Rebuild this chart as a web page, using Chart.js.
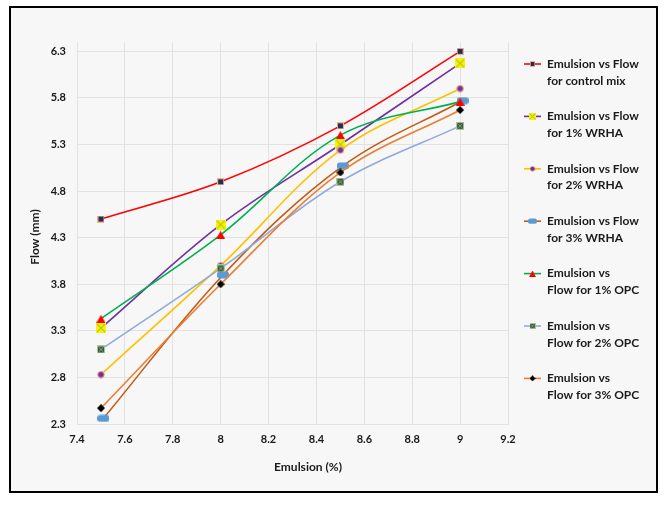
<!DOCTYPE html>
<html>
<head>
<meta charset="utf-8">
<script src="https://cdn.jsdelivr.net/npm/chart.js@4.4.1/dist/chart.umd.min.js"></script>
<style>
html, body { margin: 0; padding: 0; background: #fff; }
#moldura { position: absolute; left: 9px; top: 6px; width: 645px; height: 483px; border: 2px solid #000; background: #f7f7f7; }
canvas { display: block; }
</style>
</head>
<body>
<div id="moldura"><canvas id="myChartA" width="645" height="483"></canvas></div>
<script>
// valores (Emulsion % x Flow mm)
const emulsao = [7.5, 8, 8.5, 9]
const emulsao3WRHA = [7.51, 8.01, 8.51, 9.01]
const flowControle = [4.5, 4.9, 5.5, 6.3]
const flow1WRHA = [3.33, 4.44, 5.30, 6.17]
const flow2WRHA = [2.83, 4.00, 5.24, 5.90]
const flow3WRHA = [2.36, 3.90, 5.07, 5.77]
const flow1OPC = [3.43, 4.33, 5.40, 5.76]
const flow2OPC = [3.10, 3.97, 4.90, 5.50]
const flow3OPC = [2.47, 3.80, 5.00, 5.67]

const xTicks = [7.4, 7.6, 7.8, 8, 8.2, 8.4, 8.6, 8.8, 9, 9.2]
const yTicks = [2.3, 2.8, 3.3, 3.8, 4.3, 4.8, 5.3, 5.8, 6.3]

const legendas = [
    ['Emulsion vs Flow', 'for control mix'],
    ['Emulsion vs Flow', 'for 1% WRHA'],
    ['Emulsion vs Flow', 'for 2% WRHA'],
    ['Emulsion vs Flow', 'for 3% WRHA'],
    ['Emulsion vs', 'Flow for 1% OPC'],
    ['Emulsion vs', 'Flow for 2% OPC'],
    ['Emulsion vs', 'Flow for 3% OPC']
]

// marcadores desenhados num canvas pequeno
function marcador(w, h, desenha) {
    const c = document.createElement('canvas')
    c.width = w
    c.height = h
    desenha(c.getContext('2d'), w, h)
    return c
}

const mQuadrado = marcador(7, 7, function (g) {
    g.fillStyle = '#f4b183'; g.fillRect(0, 0, 7, 7)
    g.fillStyle = '#1f2f5c'; g.fillRect(1, 1, 5, 5)
})
const mXamarelo = marcador(10, 10, function (g) {
    g.fillStyle = '#f5f500'; g.fillRect(0, 0, 10, 10)
    g.strokeStyle = '#c2c22a'; g.lineWidth = 1.2
    g.beginPath(); g.moveTo(1, 1); g.lineTo(9, 9); g.moveTo(9, 1); g.lineTo(1, 9); g.stroke()
})
const mCirculo = marcador(8, 8, function (g) {
    g.fillStyle = '#7030a0'; g.strokeStyle = '#f4b183'; g.lineWidth = 1
    g.beginPath(); g.arc(4, 4, 3.3, 0, Math.PI * 2); g.fill(); g.stroke()
})
const mAzul = marcador(12, 8, function (g) {
    g.fillStyle = '#5b9bd5'
    g.beginPath(); g.roundRect(0, 0.5, 12, 7, 3); g.fill()
})
const mTriangulo = marcador(9, 8, function (g) {
    g.fillStyle = '#ff0000'
    g.beginPath(); g.moveTo(4.5, 0); g.lineTo(9, 8); g.lineTo(0, 8); g.closePath(); g.fill()
})
const mVerde = marcador(8, 8, function (g) {
    g.fillStyle = '#a9c89a'; g.fillRect(0, 0, 8, 8)
    g.fillStyle = '#3b5a3e'; g.fillRect(1, 1, 6, 6)
    g.strokeStyle = '#7d9c7a'; g.lineWidth = 1
    g.beginPath(); g.moveTo(1.5, 1.5); g.lineTo(6.5, 6.5); g.moveTo(6.5, 1.5); g.lineTo(1.5, 6.5); g.stroke()
})
const mLosango = marcador(8, 8, function (g) {
    g.fillStyle = '#000000'
    g.beginPath(); g.moveTo(4, 0); g.lineTo(8, 4); g.lineTo(4, 8); g.lineTo(0, 4); g.closePath(); g.fill()
})

function pontos(xs, ys) {
    return xs.map(function (x, i) { return { x: x, y: ys[i] } })
}

function serie(xs, ys, cor, ponto, ordem) {
    return {
        data: pontos(xs, ys),
        borderColor: cor,
        backgroundColor: cor,
        borderWidth: 1.6,
        pointStyle: ponto,
        pointRadius: 5,
        tension: 0.35,
        order: ordem
    }
}

const legendaLateral = {
    id: 'legendaLateral',
    afterDraw(chart) {
        const ctx = chart.ctx
        ctx.save()
        ctx.textBaseline = 'middle'
        chart.data.datasets.forEach(function (ds, i) {
            const y = 56 + i * 52.4
            ctx.strokeStyle = ds.borderColor
            ctx.lineWidth = 1.6
            ctx.beginPath(); ctx.moveTo(513, y); ctx.lineTo(530, y); ctx.stroke()
            const img = ds.pointStyle
            const w = img.width * 0.75, h = img.height * 0.75
            ctx.drawImage(img, 521.5 - w / 2, y - h / 2, w, h)
            ctx.fillStyle = '#1a1a1a'
            ctx.font = 'bold 12px Lato'
            ctx.textAlign = 'left'
            ctx.fillText(legendas[i][0], 536, y)
            ctx.fillText(legendas[i][1], 536, y + 16.7)
        })
        // titulos dos eixos
        ctx.fillStyle = '#1a1a1a'
        ctx.font = 'bold 12px Lato'
        ctx.textAlign = 'center'
        ctx.fillText('Emulsion (%)', 297, 459)
        ctx.translate(24, 229)
        ctx.rotate(-Math.PI / 2)
        ctx.fillText('Flow (mm)', 0, 0)
        ctx.restore()
    }
}

function plotarGrafico() {
    const data = {
        datasets: [
            serie(emulsao, flowControle, '#ff0000', mQuadrado, 6),
            serie(emulsao, flow1WRHA, '#7030a0', mXamarelo, 5),
            serie(emulsao, flow2WRHA, '#ffc000', mCirculo, 4),
            serie(emulsao3WRHA, flow3WRHA, '#c55a11', mAzul, 3),
            serie(emulsao, flow1OPC, '#00b050', mTriangulo, 2),
            serie(emulsao, flow2OPC, '#8faadc', mVerde, 1),
            serie(emulsao, flow3OPC, '#ed7d31', mLosango, 0)
        ]
    }

    const config = {
        type: 'line',
        data: data,
        plugins: [legendaLateral],
        options: {
            responsive: false,
            animation: false,
            layout: { padding: { left: 0, top: 34, right: 148, bottom: 0 } },
            plugins: {
                legend: { display: false },
                tooltip: { enabled: false }
            },
            scales: {
                x: {
                    type: 'linear',
                    min: 7.4,
                    max: 9.2,
                    afterBuildTicks: function (scale) { scale.ticks = xTicks.map(function (v) { return { value: v } }) },
                    afterFit: function (scale) { scale.height = 67 },
                    ticks: {
                        callback: function (v) { return String(v) },
                        color: '#1a1a1a',
                        font: { family: 'Lato', size: 11, weight: 'bold' },
                        padding: 9,
                        maxRotation: 0
                    },
                    grid: { color: '#e2e2e2', drawTicks: false },
                    border: { color: '#e2e2e2' }
                },
                y: {
                    min: 2.3,
                    max: 6.4,
                    afterBuildTicks: function (scale) { scale.ticks = yTicks.map(function (v) { return { value: v } }) },
                    afterFit: function (scale) { scale.width = 66 },
                    ticks: {
                        callback: function (v) { return String(v) },
                        color: '#1a1a1a',
                        font: { family: 'Lato', size: 11, weight: 'bold' },
                        padding: 11
                    },
                    grid: { color: '#e2e2e2', drawTicks: false },
                    border: { color: '#e2e2e2' }
                }
            }
        }
    }
    new Chart(document.getElementById('myChartA'), config)
}

document.fonts.load('bold 12px Lato').then(plotarGrafico, plotarGrafico)
</script>
</body>
</html>
